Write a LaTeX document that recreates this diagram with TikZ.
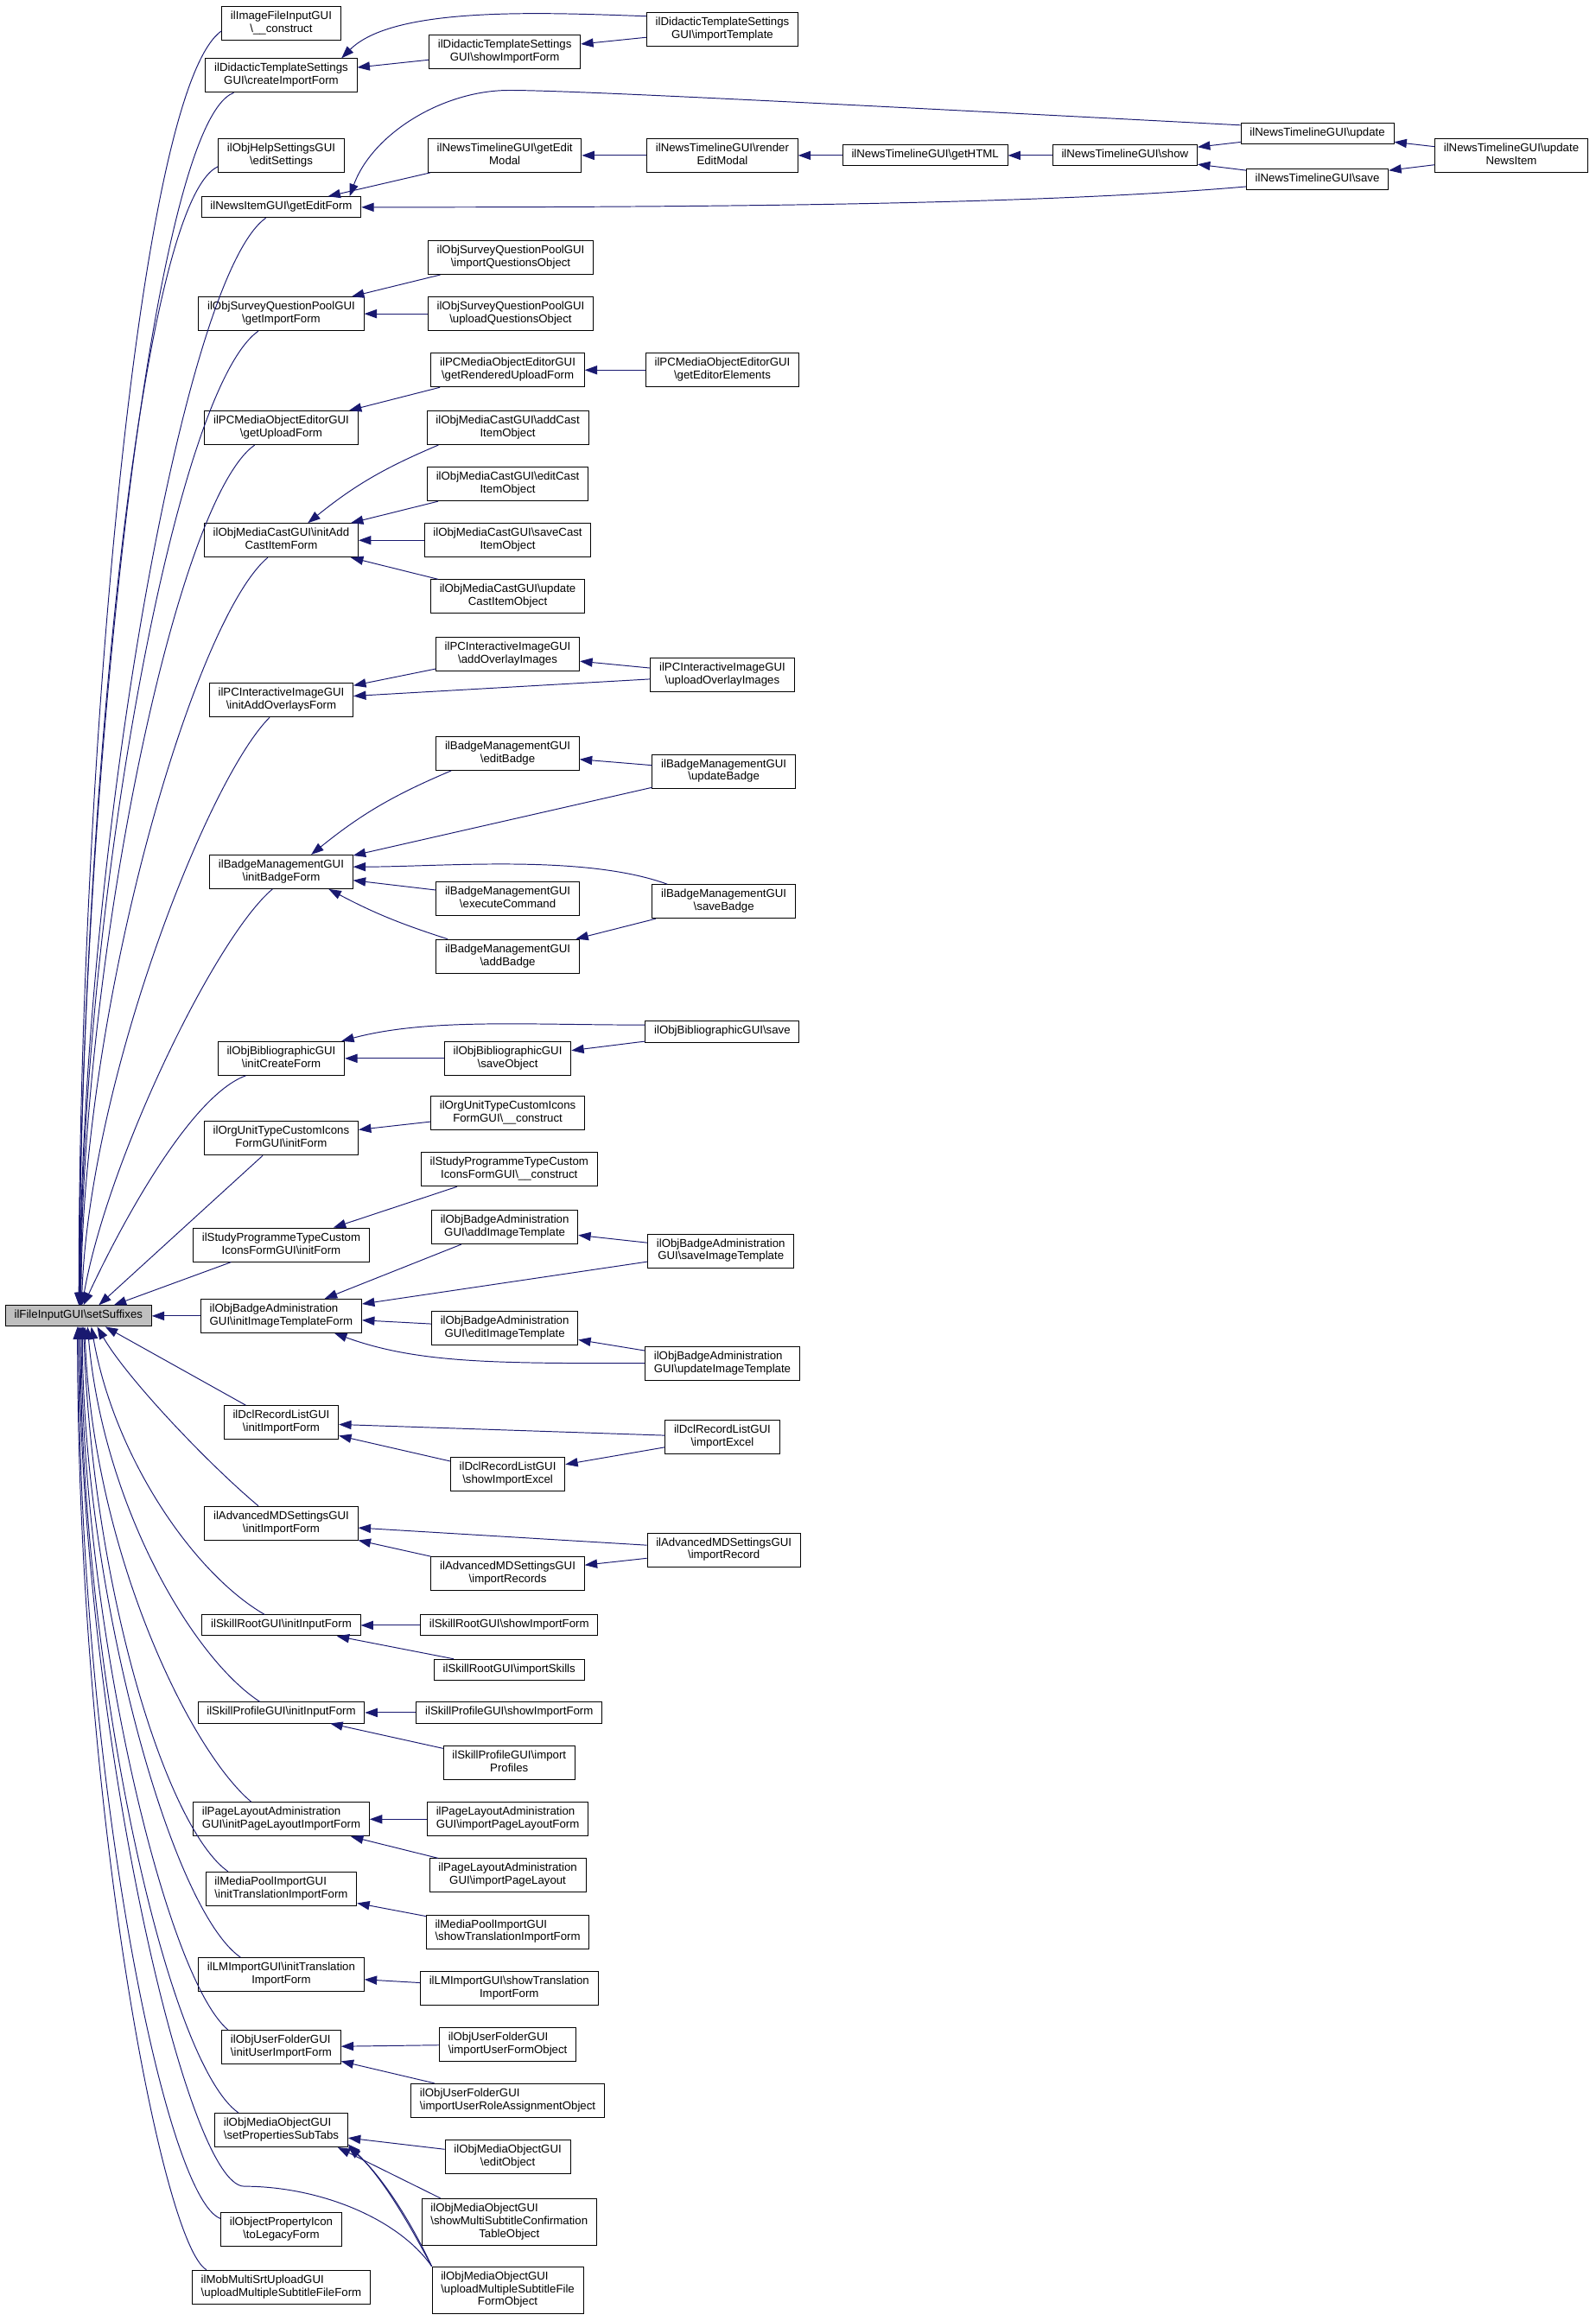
\documentclass[tikz,border=0pt]{standalone}
\usepackage{fontspec}
\setmainfont{Liberation Sans}
\usetikzlibrary{arrows.meta}
\definecolor{edgeblue}{HTML}{191970}
\newcommand{\bsl}{\textbackslash}
\newcommand{\lblA}[1]{\begin{tabular}{@{}c@{}}#1\end{tabular}}
\newcommand{\lblB}[2]{\begin{tabular}{@{}l@{}}#1\\\multicolumn{1}{@{}c@{}}{#2}\end{tabular}}
\newcommand{\lblC}[3]{\begin{tabular}{@{}l@{}}#1\\#2\\\multicolumn{1}{@{}c@{}}{#3}\end{tabular}}
\begin{document}
\begin{tikzpicture}[x=0.05cm, y=0.05cm, >={Triangle[length=12pt, width=8.5pt]},
		fn/.style={draw, line width=0.8pt, fill=white, inner xsep=8.5pt, inner ysep=3.8pt, font=\fontsize{11}{12.4}\selectfont},
		edge/.style={draw=edgeblue, line width=0.8pt, ->}]
			\useasboundingbox (0,0) rectangle (1078,-1568);
			\node[fn, fill=black!25] (root) at (53,-889) {\lblA{ilFileInputGUI\bsl setSuffixes}};
			\node[fn] (imgCon) at (190,-16) {\lblB{ilImageFileInputGUI}{\bsl\_\_construct}};
			\node[fn] (dtCreate) at (190,-51) {\lblB{ilDidacticTemplateSettings}{GUI\bsl createImportForm}};
			\node[fn] (helpEdit) at (190,-105) {\lblB{ilObjHelpSettingsGUI}{\bsl editSettings}};
			\node[fn] (newsEdit) at (190,-140) {\lblA{ilNewsItemGUI\bsl getEditForm}};
			\node[fn] (spGetImport) at (190,-212) {\lblB{ilObjSurveyQuestionPoolGUI}{\bsl getImportForm}};
			\node[fn] (pcUpload) at (190,-289) {\lblB{ilPCMediaObjectEditorGUI}{\bsl getUploadForm}};
			\node[fn] (mcInit) at (190,-365) {\lblB{ilObjMediaCastGUI\bsl initAdd}{CastItemForm}};
			\node[fn] (piInit) at (190,-473) {\lblB{ilPCInteractiveImageGUI}{\bsl initAddOverlaysForm}};
			\node[fn] (bmInit) at (190,-589) {\lblB{ilBadgeManagementGUI}{\bsl initBadgeForm}};
			\node[fn] (biInit) at (190,-715) {\lblB{ilObjBibliographicGUI}{\bsl initCreateForm}};
			\node[fn] (ouInit) at (190,-769) {\lblB{ilOrgUnitTypeCustomIcons}{FormGUI\bsl initForm}};
			\node[fn] (spInit) at (190,-841) {\lblB{ilStudyProgrammeTypeCustom}{IconsFormGUI\bsl initForm}};
			\node[fn] (obaInit) at (190,-889) {\lblB{ilObjBadgeAdministration}{GUI\bsl initImageTemplateForm}};
			\node[fn] (dclInit) at (190,-961) {\lblB{ilDclRecordListGUI}{\bsl initImportForm}};
			\node[fn] (amdInit) at (190,-1029) {\lblB{ilAdvancedMDSettingsGUI}{\bsl initImportForm}};
			\node[fn] (srInit) at (190,-1098) {\lblA{ilSkillRootGUI\bsl initInputForm}};
			\node[fn] (spfInit) at (190,-1157) {\lblA{ilSkillProfileGUI\bsl initInputForm}};
			\node[fn] (plInit) at (190,-1229) {\lblB{ilPageLayoutAdministration}{GUI\bsl initPageLayoutImportForm}};
			\node[fn] (mpInit) at (190,-1276) {\lblB{ilMediaPoolImportGUI}{\bsl initTranslationImportForm}};
			\node[fn] (lmInit) at (190,-1334) {\lblB{ilLMImportGUI\bsl initTranslation}{ImportForm}};
			\node[fn] (ufInit) at (190,-1383) {\lblB{ilObjUserFolderGUI}{\bsl initUserImportForm}};
			\node[fn] (moTabs) at (190,-1439) {\lblB{ilObjMediaObjectGUI}{\bsl setPropertiesSubTabs}};
			\node[fn] (olIcon) at (190,-1506) {\lblB{ilObjectPropertyIcon}{\bsl toLegacyForm}};
			\node[fn] (msUpload) at (190,-1545) {\lblB{ilMobMultiSrtUploadGUI}{\bsl uploadMultipleSubtitleFileForm}};
			\node[fn] (dtShow) at (341,-35) {\lblB{ilDidacticTemplateSettings}{GUI\bsl showImportForm}};
			\node[fn] (newsModal) at (341,-105) {\lblB{ilNewsTimelineGUI\bsl getEdit}{Modal}};
			\node[fn] (spImportQ) at (345,-174) {\lblB{ilObjSurveyQuestionPoolGUI}{\bsl importQuestionsObject}};
			\node[fn] (spUploadQ) at (345,-212) {\lblB{ilObjSurveyQuestionPoolGUI}{\bsl uploadQuestionsObject}};
			\node[fn] (pcRendered) at (343,-250) {\lblB{ilPCMediaObjectEditorGUI}{\bsl getRenderedUploadForm}};
			\node[fn] (mcAdd) at (343,-289) {\lblB{ilObjMediaCastGUI\bsl addCast}{ItemObject}};
			\node[fn] (mcEdit) at (343,-327) {\lblB{ilObjMediaCastGUI\bsl editCast}{ItemObject}};
			\node[fn] (mcSave) at (343,-365) {\lblB{ilObjMediaCastGUI\bsl saveCast}{ItemObject}};
			\node[fn] (mcUpdate) at (343,-403) {\lblB{ilObjMediaCastGUI\bsl update}{CastItemObject}};
			\node[fn] (piAdd) at (343,-442) {\lblB{ilPCInteractiveImageGUI}{\bsl addOverlayImages}};
			\node[fn] (bmEdit) at (343,-509) {\lblB{ilBadgeManagementGUI}{\bsl editBadge}};
			\node[fn] (bmExec) at (343,-607) {\lblB{ilBadgeManagementGUI}{\bsl executeCommand}};
			\node[fn] (bmAdd) at (343,-646) {\lblB{ilBadgeManagementGUI}{\bsl addBadge}};
			\node[fn] (biSaveObj) at (343,-715) {\lblB{ilObjBibliographicGUI}{\bsl saveObject}};
			\node[fn] (ouCon) at (343,-752) {\lblB{ilOrgUnitTypeCustomIcons}{FormGUI\bsl\_\_construct}};
			\node[fn] (spCon) at (344,-790) {\lblB{ilStudyProgrammeTypeCustom}{IconsFormGUI\bsl\_\_construct}};
			\node[fn] (obaAdd) at (341,-829) {\lblB{ilObjBadgeAdministration}{GUI\bsl addImageTemplate}};
			\node[fn] (obaEdit) at (341,-897) {\lblB{ilObjBadgeAdministration}{GUI\bsl editImageTemplate}};
			\node[fn] (dclShow) at (343,-996) {\lblB{ilDclRecordListGUI}{\bsl showImportExcel}};
			\node[fn] (amdRecords) at (343,-1063) {\lblB{ilAdvancedMDSettingsGUI}{\bsl importRecords}};
			\node[fn] (srShow) at (344,-1098) {\lblA{ilSkillRootGUI\bsl showImportForm}};
			\node[fn] (srSkills) at (344,-1128) {\lblA{ilSkillRootGUI\bsl importSkills}};
			\node[fn] (spfShow) at (344,-1157) {\lblA{ilSkillProfileGUI\bsl showImportForm}};
			\node[fn] (spfProfiles) at (344,-1191) {\lblB{ilSkillProfileGUI\bsl import}{Profiles}};
			\node[fn] (plForm) at (343,-1229) {\lblB{ilPageLayoutAdministration}{GUI\bsl importPageLayoutForm}};
			\node[fn] (plLayout) at (343,-1267) {\lblB{ilPageLayoutAdministration}{GUI\bsl importPageLayout}};
			\node[fn] (mpShow) at (343,-1305) {\lblB{ilMediaPoolImportGUI}{\bsl showTranslationImportForm}};
			\node[fn] (lmShow) at (344,-1343) {\lblB{ilLMImportGUI\bsl showTranslation}{ImportForm}};
			\node[fn] (ufForm) at (343,-1381) {\lblB{ilObjUserFolderGUI}{\bsl importUserFormObject}};
			\node[fn] (ufRole) at (343,-1419) {\lblB{ilObjUserFolderGUI}{\bsl importUserRoleAssignmentObject}};
			\node[fn] (moEdit) at (343,-1457) {\lblB{ilObjMediaObjectGUI}{\bsl editObject}};
			\node[fn] (moShow) at (344,-1501) {\lblC{ilObjMediaObjectGUI}{\bsl showMultiSubtitleConfirmation}{TableObject}};
			\node[fn] (uploadObj) at (343,-1547) {\lblC{ilObjMediaObjectGUI}{\bsl uploadMultipleSubtitleFile}{FormObject}};
			\node[fn] (dtImport) at (488,-20) {\lblB{ilDidacticTemplateSettings}{GUI\bsl importTemplate}};
			\node[fn] (newsRender) at (488,-105) {\lblB{ilNewsTimelineGUI\bsl render}{EditModal}};
			\node[fn] (pcEditorEl) at (488,-250) {\lblB{ilPCMediaObjectEditorGUI}{\bsl getEditorElements}};
			\node[fn] (piUpload) at (488,-456) {\lblB{ilPCInteractiveImageGUI}{\bsl uploadOverlayImages}};
			\node[fn] (bmUpdate) at (489,-521) {\lblB{ilBadgeManagementGUI}{\bsl updateBadge}};
			\node[fn] (bmSave) at (489,-609) {\lblB{ilBadgeManagementGUI}{\bsl saveBadge}};
			\node[fn] (biSave) at (488,-697) {\lblA{ilObjBibliographicGUI\bsl save}};
			\node[fn] (obaSave) at (487,-845) {\lblB{ilObjBadgeAdministration}{GUI\bsl saveImageTemplate}};
			\node[fn] (obaUpdate) at (488,-921) {\lblB{ilObjBadgeAdministration}{GUI\bsl updateImageTemplate}};
			\node[fn] (dclExcel) at (488,-971) {\lblB{ilDclRecordListGUI}{\bsl importExcel}};
			\node[fn] (amdRecord) at (489,-1047) {\lblB{ilAdvancedMDSettingsGUI}{\bsl importRecord}};
			\node[fn] (newsHTML) at (625,-105) {\lblA{ilNewsTimelineGUI\bsl getHTML}};
			\node[fn] (newsShow) at (760,-105) {\lblA{ilNewsTimelineGUI\bsl show}};
			\node[fn] (newsUpdate) at (890,-90) {\lblA{ilNewsTimelineGUI\bsl update}};
			\node[fn] (newsSave) at (890,-121) {\lblA{ilNewsTimelineGUI\bsl save}};
			\node[fn] (newsItem) at (1021,-105) {\lblB{ilNewsTimelineGUI\bsl update}{NewsItem}};
			\draw[edge] (imgCon.187) .. controls +(215:70) and +(90:350) .. (root.88);
			\draw[edge] (dtCreate.200) .. controls +(200:60) and +(90:330) .. (root.86);
			\draw[edge] (helpEdit.190) .. controls +(205:60) and +(90:310) .. (root.84);
			\draw[edge] (newsEdit.215) .. controls +(215:70) and +(90:290) .. (root.82);
			\draw[edge] (spGetImport.217) .. controls +(215:70) and +(90:260) .. (root.80);
			\draw[edge] (pcUpload.213) .. controls +(215:65) and +(90:230) .. (root.78);
			\draw[edge] (mcInit.232) .. controls +(220:65) and +(90:200) .. (root.76);
			\draw[edge] (piInit.236) .. controls +(225:60) and +(88:150) .. (root.74);
			\draw[edge] (bmInit.243) .. controls +(220:50) and +(80:100) .. (root.72);
			\draw[edge] (biInit.206) .. controls +(200:40) and +(65:60) .. (root.65);
			\draw[edge] (ouInit.223) -- (root.28);
			\draw[edge] (spInit.199) -- (root.17);
			\draw[edge] (obaInit) -- (root);
			\draw[edge] (dclInit.154) -- (root.-22);
			\draw[edge] (amdInit.143) .. controls +(140:45) and +(-60:40) .. (root.-30);
			\draw[edge] (srInit.147) .. controls +(150:55) and +(280:90) .. (root.-40);
			\draw[edge] (spfInit.153) .. controls +(147:55) and +(275:120) .. (root.-50);
			\draw[edge] (plInit.150) .. controls +(140:55) and +(272:150) .. (root.-60);
			\draw[edge] (mpInit.162) .. controls +(145:50) and +(272:180) .. (root.-65);
			\draw[edge] (lmInit.157) .. controls +(145:60) and +(270:170) .. (root.-70);
			\draw[edge] (ufInit.162) .. controls +(140:55) and +(270:200) .. (root.-75);
			\draw[edge] (moTabs.158) .. controls +(145:60) and +(270:230) .. (root.-80);
			\draw[edge] (uploadObj.north west) .. controls +(125:40) and +(0:50) .. (165,-1477) .. controls +(180:40) and +(270:260) .. (root.-85);
			\draw[edge] (olIcon.170) .. controls +(160:40) and +(270:300) .. (root.-90);
			\draw[edge] (msUpload.167) .. controls +(150:35) and +(270:320) .. (root.-95);
			\draw[edge] (dtShow) -- (dtCreate);
			\draw[edge] (dtImport) -- (dtShow);
			\draw[edge] (dtImport.170) .. controls +(178:70) and +(45:50) .. (dtCreate.16);
			\draw[edge] (newsModal) -- (newsEdit);
			\draw[edge] (newsRender) -- (newsModal);
			\draw[edge] (newsHTML) -- (newsRender);
			\draw[edge] (newsShow) -- (newsHTML);
			\draw[edge] (newsUpdate) -- (newsShow);
			\draw[edge] (newsSave) -- (newsShow);
			\draw[edge] (newsItem) -- (newsUpdate);
			\draw[edge] (newsItem) -- (newsSave);
			\draw[edge] (newsUpdate.174) .. controls +(177:300) and +(0:40) .. (344,-61) .. controls +(180:45) and +(70:45) .. (newsEdit.9);
			\draw[edge] (newsSave.186) .. controls +(185:150) and +(0:200) .. (newsEdit.east);
			\draw[edge] (spImportQ) -- (spGetImport);
			\draw[edge] (spUploadQ) -- (spGetImport);
			\draw[edge] (pcRendered) -- (pcUpload);
			\draw[edge] (pcEditorEl) -- (pcRendered);
			\draw[edge] (mcAdd.194) to[bend right=8] (mcInit.33);
			\draw[edge] (mcEdit) -- (mcInit);
			\draw[edge] (mcSave) -- (mcInit);
			\draw[edge] (mcUpdate) -- (mcInit);
			\draw[edge] (piAdd) -- (piInit);
			\draw[edge] (piUpload) -- (piInit);
			\draw[edge] (piUpload) -- (piAdd);
			\draw[edge] (bmEdit.197) to[bend right=8] (bmInit.30);
			\draw[edge] (bmUpdate) -- (bmInit);
			\draw[edge] (bmSave.163) .. controls +(160:60) and +(0:60) .. (bmInit.4);
			\draw[edge] (bmExec) -- (bmInit);
			\draw[edge] (bmAdd.164) to[bend left=5] (bmInit.-20);
			\draw[edge] (bmUpdate) -- (bmEdit);
			\draw[edge] (bmSave) -- (bmAdd);
			\draw[edge] (biSave.175) .. controls +(180:80) and +(15:60) .. (biInit.16);
			\draw[edge] (biSaveObj) -- (biInit);
			\draw[edge] (biSave) -- (biSaveObj);
			\draw[edge] (ouCon) -- (ouInit);
			\draw[edge] (spCon) -- (spInit);
			\draw[edge] (obaAdd) -- (obaInit);
			\draw[edge] (obaSave) -- (obaInit);
			\draw[edge] (obaSave) -- (obaAdd);
			\draw[edge] (obaEdit) -- (obaInit);
			\draw[edge] (obaUpdate.west) .. controls +(180:100) and +(-20:60) .. (obaInit.-18);
			\draw[edge] (obaUpdate) -- (obaEdit);
			\draw[edge] (dclExcel) -- (dclInit);
			\draw[edge] (dclShow) -- (dclInit);
			\draw[edge] (dclExcel) -- (dclShow);
			\draw[edge] (amdRecord) -- (amdInit);
			\draw[edge] (amdRecords) -- (amdInit);
			\draw[edge] (amdRecord) -- (amdRecords);
			\draw[edge] (srShow) -- (srInit);
			\draw[edge] (srSkills) -- (srInit);
			\draw[edge] (spfShow) -- (spfInit);
			\draw[edge] (spfProfiles) -- (spfInit);
			\draw[edge] (plForm) -- (plInit);
			\draw[edge] (plLayout) -- (plInit);
			\draw[edge] (mpShow) -- (mpInit);
			\draw[edge] (lmShow) -- (lmInit);
			\draw[edge] (ufForm) -- (ufInit);
			\draw[edge] (ufRole) -- (ufInit);
			\draw[edge] (moEdit) -- (moTabs);
			\draw[edge] (moShow.161) -- (moTabs.-17);
			\draw[edge] (uploadObj.north west) .. controls +(115:40) and +(-40:25) .. (moTabs.-14);
			\draw[edge] (uploadObj.north west) .. controls +(118:45) and +(-45:30) .. (moTabs.-12);
		\end{tikzpicture}
\end{document}
